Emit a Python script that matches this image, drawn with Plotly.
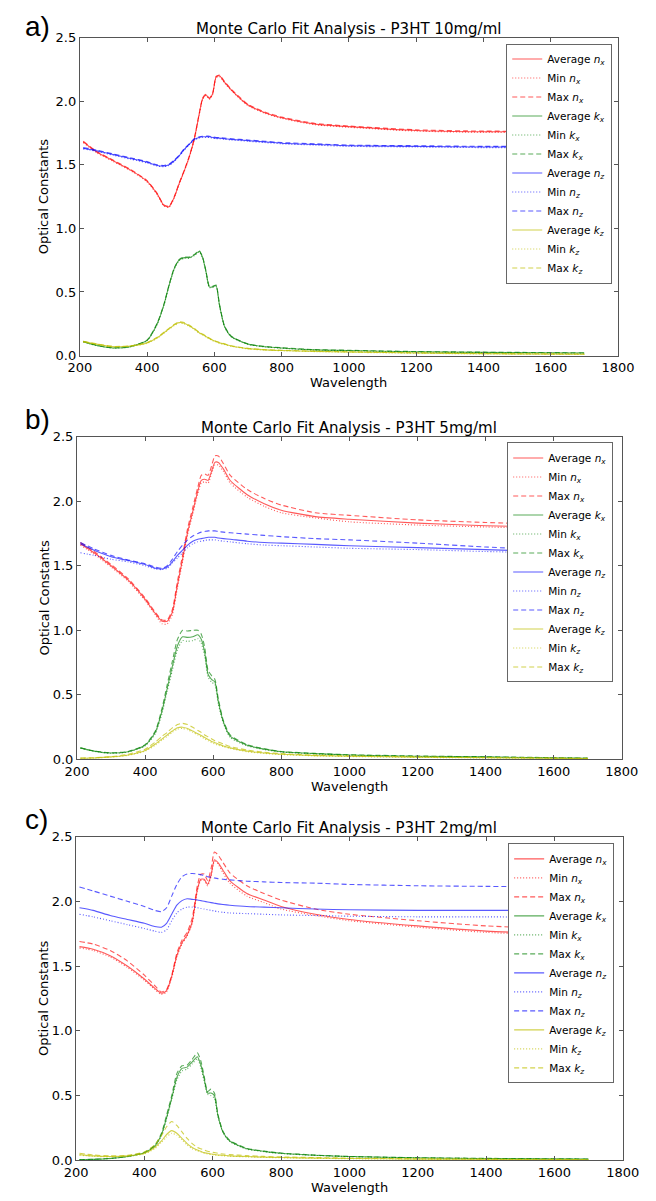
import plotly.graph_objects as go

W, H = 656, 1201

WL = [210, 250, 300, 350, 400, 430, 450, 465, 480, 495, 510, 525, 540, 555, 565,
      575, 585, 595, 605, 615, 630, 650, 700, 750, 800, 900, 1000, 1200, 1400, 1700]

# ---------------- Panel a) 10mg/ml ----------------
a_nx_avg = [1.68, 1.60, 1.53, 1.46, 1.37, 1.27, 1.18, 1.17, 1.24, 1.35, 1.45, 1.56, 1.70, 1.90, 2.02,
            2.05, 2.02, 2.06, 2.19, 2.20, 2.15, 2.09, 1.97, 1.91, 1.87, 1.82, 1.80, 1.77, 1.76, 1.76]
a_nx_min = [1.675, 1.595, 1.525, 1.455, 1.365, 1.265, 1.175, 1.165, 1.235, 1.345, 1.445, 1.555, 1.695, 1.895, 2.015,
            2.045, 2.015, 2.055, 2.185, 2.195, 2.145, 2.085, 1.965, 1.905, 1.865, 1.815, 1.795, 1.765, 1.755, 1.755]
a_nx_max = [1.685, 1.605, 1.535, 1.465, 1.375, 1.275, 1.185, 1.175, 1.245, 1.355, 1.455, 1.565, 1.705, 1.905, 2.025,
            2.055, 2.025, 2.065, 2.195, 2.205, 2.155, 2.095, 1.975, 1.915, 1.875, 1.825, 1.805, 1.775, 1.765, 1.765]
a_kx_avg = [0.11, 0.08, 0.06, 0.07, 0.12, 0.25, 0.40, 0.55, 0.68, 0.75, 0.77, 0.77, 0.79, 0.82, 0.77,
            0.66, 0.54, 0.54, 0.55, 0.40, 0.23, 0.15, 0.09, 0.07, 0.06, 0.045, 0.04, 0.03, 0.025, 0.02]
a_kx_min = [0.108, 0.078, 0.058, 0.068, 0.117, 0.245, 0.395, 0.545, 0.675, 0.745, 0.765, 0.765, 0.785, 0.815, 0.765,
            0.655, 0.535, 0.535, 0.545, 0.395, 0.226, 0.147, 0.088, 0.068, 0.058, 0.043, 0.038, 0.028, 0.023, 0.018]
a_kx_max = [0.112, 0.082, 0.062, 0.072, 0.123, 0.255, 0.405, 0.555, 0.685, 0.755, 0.775, 0.775, 0.795, 0.825, 0.775,
            0.665, 0.545, 0.545, 0.555, 0.405, 0.234, 0.153, 0.092, 0.072, 0.062, 0.047, 0.042, 0.032, 0.027, 0.022]
a_nz_avg = [1.63, 1.61, 1.58, 1.55, 1.52, 1.495, 1.49, 1.50, 1.53, 1.57, 1.62, 1.66, 1.70, 1.715, 1.72,
            1.72, 1.72, 1.715, 1.71, 1.71, 1.705, 1.70, 1.69, 1.68, 1.67, 1.66, 1.65, 1.645, 1.64, 1.64]
a_nz_min = [1.625, 1.605, 1.575, 1.545, 1.515, 1.49, 1.485, 1.495, 1.525, 1.565, 1.615, 1.655, 1.695, 1.71, 1.715,
            1.715, 1.715, 1.71, 1.705, 1.705, 1.70, 1.695, 1.685, 1.675, 1.665, 1.655, 1.645, 1.64, 1.635, 1.635]
a_nz_max = [1.635, 1.615, 1.585, 1.555, 1.525, 1.50, 1.495, 1.505, 1.535, 1.575, 1.625, 1.665, 1.705, 1.72, 1.725,
            1.725, 1.725, 1.72, 1.715, 1.715, 1.71, 1.705, 1.695, 1.685, 1.675, 1.665, 1.655, 1.65, 1.645, 1.645]
a_kz_avg = [0.11, 0.09, 0.07, 0.075, 0.10, 0.14, 0.18, 0.21, 0.24, 0.26, 0.255, 0.235, 0.21, 0.18, 0.165,
            0.15, 0.135, 0.12, 0.11, 0.10, 0.09, 0.075, 0.055, 0.045, 0.04, 0.033, 0.028, 0.02, 0.015, 0.01]
a_kz_min = [0.108, 0.088, 0.068, 0.073, 0.097, 0.136, 0.176, 0.206, 0.235, 0.255, 0.25, 0.23, 0.206, 0.176, 0.161,
            0.146, 0.132, 0.117, 0.107, 0.097, 0.087, 0.073, 0.053, 0.043, 0.038, 0.031, 0.026, 0.018, 0.013, 0.008]
a_kz_max = [0.112, 0.092, 0.072, 0.077, 0.103, 0.144, 0.184, 0.214, 0.245, 0.265, 0.26, 0.24, 0.214, 0.184, 0.169,
            0.154, 0.138, 0.123, 0.113, 0.103, 0.093, 0.077, 0.057, 0.047, 0.042, 0.035, 0.03, 0.022, 0.017, 0.012]

# ---------------- Panel b) 5mg/ml ----------------
b_nx_avg = [1.67, 1.60, 1.50, 1.39, 1.24, 1.13, 1.07, 1.07, 1.14, 1.35, 1.55, 1.76, 1.92, 2.08, 2.16,
            2.17, 2.16, 2.23, 2.30, 2.30, 2.25, 2.16, 2.05, 1.98, 1.93, 1.88, 1.86, 1.83, 1.81, 1.79]
b_nx_min = [1.66, 1.59, 1.49, 1.38, 1.23, 1.12, 1.05, 1.05, 1.12, 1.33, 1.53, 1.74, 1.90, 2.06, 2.14,
            2.15, 2.14, 2.21, 2.28, 2.28, 2.23, 2.14, 2.03, 1.96, 1.91, 1.87, 1.84, 1.815, 1.80, 1.78]
b_nx_max = [1.68, 1.61, 1.51, 1.40, 1.25, 1.14, 1.08, 1.08, 1.16, 1.38, 1.58, 1.79, 1.95, 2.11, 2.20,
            2.21, 2.20, 2.27, 2.35, 2.35, 2.29, 2.20, 2.09, 2.02, 1.97, 1.91, 1.89, 1.855, 1.835, 1.81]
b_kx_avg = [0.09, 0.065, 0.05, 0.06, 0.11, 0.21, 0.38, 0.55, 0.72, 0.88, 0.95, 0.945, 0.95, 0.965, 0.93,
            0.83, 0.66, 0.62, 0.60, 0.45, 0.29, 0.18, 0.11, 0.08, 0.06, 0.045, 0.035, 0.025, 0.02, 0.01]
b_kx_min = [0.088, 0.063, 0.048, 0.058, 0.105, 0.20, 0.36, 0.53, 0.69, 0.85, 0.92, 0.915, 0.92, 0.935, 0.90,
            0.80, 0.64, 0.60, 0.58, 0.43, 0.28, 0.17, 0.105, 0.077, 0.058, 0.043, 0.033, 0.023, 0.018, 0.009]
b_kx_max = [0.09, 0.066, 0.052, 0.062, 0.115, 0.22, 0.40, 0.58, 0.76, 0.93, 1.00, 0.995, 1.00, 1.00, 0.97,
            0.87, 0.69, 0.65, 0.62, 0.47, 0.30, 0.19, 0.115, 0.083, 0.062, 0.047, 0.037, 0.027, 0.021, 0.011]
b_nz_avg = [1.67, 1.62, 1.57, 1.54, 1.51, 1.48, 1.475, 1.49, 1.53, 1.58, 1.62, 1.66, 1.69, 1.705, 1.71,
            1.715, 1.72, 1.72, 1.72, 1.715, 1.71, 1.705, 1.69, 1.68, 1.675, 1.665, 1.655, 1.64, 1.625, 1.60]
b_nz_min = [1.60, 1.58, 1.55, 1.53, 1.50, 1.475, 1.47, 1.48, 1.52, 1.56, 1.60, 1.64, 1.67, 1.685, 1.69,
            1.695, 1.70, 1.70, 1.70, 1.695, 1.69, 1.685, 1.67, 1.66, 1.655, 1.645, 1.635, 1.625, 1.61, 1.595]
b_nz_max = [1.68, 1.63, 1.58, 1.545, 1.515, 1.49, 1.48, 1.50, 1.55, 1.61, 1.66, 1.70, 1.73, 1.75, 1.76,
            1.765, 1.77, 1.77, 1.77, 1.765, 1.76, 1.755, 1.745, 1.735, 1.725, 1.71, 1.70, 1.675, 1.645, 1.61]
b_kz_avg = [0.01, 0.012, 0.02, 0.035, 0.07, 0.12, 0.16, 0.19, 0.22, 0.245, 0.25, 0.24, 0.22, 0.20, 0.185,
            0.17, 0.155, 0.14, 0.13, 0.12, 0.105, 0.09, 0.065, 0.05, 0.04, 0.03, 0.025, 0.018, 0.013, 0.008]
b_kz_min = [0.009, 0.011, 0.018, 0.032, 0.065, 0.11, 0.15, 0.18, 0.21, 0.235, 0.24, 0.23, 0.21, 0.19, 0.175,
            0.16, 0.145, 0.13, 0.12, 0.11, 0.10, 0.085, 0.06, 0.047, 0.038, 0.028, 0.023, 0.016, 0.012, 0.007]
b_kz_max = [0.012, 0.014, 0.022, 0.04, 0.08, 0.135, 0.18, 0.21, 0.245, 0.27, 0.28, 0.27, 0.25, 0.225, 0.21,
            0.19, 0.175, 0.16, 0.145, 0.135, 0.12, 0.10, 0.073, 0.056, 0.045, 0.034, 0.028, 0.02, 0.015, 0.009]

# ---------------- Panel c) 2mg/ml ----------------
c_nx_avg = [1.65, 1.63, 1.58, 1.50, 1.40, 1.33, 1.29, 1.31, 1.42, 1.58, 1.68, 1.74, 1.84, 2.09, 2.17,
            2.17, 2.13, 2.20, 2.32, 2.30, 2.24, 2.16, 2.06, 2.01, 1.96, 1.90, 1.86, 1.81, 1.77, 1.74]
c_nx_min = [1.64, 1.62, 1.57, 1.49, 1.39, 1.32, 1.28, 1.30, 1.41, 1.57, 1.67, 1.73, 1.83, 2.08, 2.16,
            2.16, 2.12, 2.19, 2.31, 2.29, 2.22, 2.14, 2.04, 1.99, 1.94, 1.89, 1.85, 1.80, 1.76, 1.73]
c_nx_max = [1.69, 1.67, 1.62, 1.54, 1.43, 1.35, 1.30, 1.32, 1.43, 1.60, 1.70, 1.76, 1.87, 2.12, 2.21,
            2.21, 2.16, 2.25, 2.38, 2.36, 2.30, 2.22, 2.12, 2.06, 2.01, 1.94, 1.90, 1.85, 1.81, 1.78]
c_kx_avg = [0.005, 0.008, 0.015, 0.03, 0.06, 0.11, 0.20, 0.33, 0.48, 0.64, 0.71, 0.72, 0.76, 0.80, 0.74,
            0.63, 0.52, 0.52, 0.50, 0.35, 0.22, 0.15, 0.09, 0.07, 0.055, 0.04, 0.03, 0.02, 0.015, 0.01]
c_kx_min = [0.004, 0.007, 0.014, 0.028, 0.058, 0.105, 0.19, 0.32, 0.47, 0.62, 0.69, 0.705, 0.745, 0.785, 0.72,
            0.61, 0.51, 0.50, 0.48, 0.34, 0.215, 0.145, 0.087, 0.068, 0.053, 0.039, 0.029, 0.019, 0.014, 0.009]
c_kx_max = [0.006, 0.009, 0.016, 0.032, 0.062, 0.115, 0.21, 0.35, 0.50, 0.67, 0.73, 0.735, 0.78, 0.83, 0.77,
            0.65, 0.53, 0.55, 0.52, 0.36, 0.225, 0.155, 0.093, 0.072, 0.057, 0.041, 0.031, 0.021, 0.016, 0.011]
c_nz_avg = [1.95, 1.93, 1.89, 1.86, 1.83, 1.805, 1.80, 1.83, 1.90, 1.97, 2.005, 2.02, 2.015, 2.01, 2.005,
            2.00, 1.995, 1.99, 1.985, 1.98, 1.975, 1.97, 1.96, 1.955, 1.95, 1.94, 1.935, 1.93, 1.93, 1.93]
c_nz_min = [1.90, 1.88, 1.85, 1.82, 1.79, 1.77, 1.76, 1.78, 1.85, 1.91, 1.94, 1.955, 1.955, 1.95, 1.945,
            1.94, 1.935, 1.93, 1.925, 1.92, 1.915, 1.91, 1.905, 1.90, 1.895, 1.89, 1.885, 1.88, 1.88, 1.875]
c_nz_max = [2.11, 2.08, 2.04, 2.00, 1.96, 1.93, 1.92, 1.95, 2.04, 2.13, 2.19, 2.21, 2.215, 2.21, 2.205,
            2.20, 2.19, 2.185, 2.18, 2.175, 2.17, 2.165, 2.155, 2.15, 2.145, 2.14, 2.13, 2.12, 2.115, 2.11]
c_kz_avg = [0.045, 0.035, 0.03, 0.035, 0.055, 0.10, 0.15, 0.20, 0.23, 0.21, 0.17, 0.13, 0.10, 0.08, 0.07,
            0.06, 0.055, 0.05, 0.045, 0.042, 0.04, 0.035, 0.03, 0.025, 0.022, 0.018, 0.015, 0.01, 0.008, 0.005]
c_kz_min = [0.04, 0.032, 0.027, 0.032, 0.05, 0.09, 0.14, 0.18, 0.21, 0.195, 0.16, 0.12, 0.09, 0.075, 0.065,
            0.055, 0.05, 0.045, 0.042, 0.039, 0.036, 0.032, 0.027, 0.023, 0.02, 0.016, 0.013, 0.009, 0.007, 0.004]
c_kz_max = [0.055, 0.042, 0.035, 0.04, 0.065, 0.12, 0.19, 0.26, 0.30, 0.27, 0.22, 0.17, 0.13, 0.10, 0.09,
            0.08, 0.07, 0.065, 0.06, 0.055, 0.05, 0.045, 0.037, 0.031, 0.027, 0.022, 0.018, 0.013, 0.01, 0.007]

TITLES = ["Monte Carlo Fit Analysis - P3HT 10mg/ml",
          "Monte Carlo Fit Analysis - P3HT 5mg/ml",
          "Monte Carlo Fit Analysis - P3HT 2mg/ml"]
PANEL_LABELS = ["a)", "b)", "c)"]
X_TICKS = [200, 400, 600, 800, 1000, 1200, 1400, 1600, 1800]
Y_TICKS = [0.0, 0.5, 1.0, 1.5, 2.0, 2.5]

panels = [
    {"nx": (a_nx_avg, a_nx_min, a_nx_max), "kx": (a_kx_avg, a_kx_min, a_kx_max),
     "nz": (a_nz_avg, a_nz_min, a_nz_max), "kz": (a_kz_avg, a_kz_min, a_kz_max)},
    {"nx": (b_nx_avg, b_nx_min, b_nx_max), "kx": (b_kx_avg, b_kx_min, b_kx_max),
     "nz": (b_nz_avg, b_nz_min, b_nz_max), "kz": (b_kz_avg, b_kz_min, b_kz_max)},
    {"nx": (c_nx_avg, c_nx_min, c_nx_max), "kx": (c_kx_avg, c_kx_min, c_kx_max),
     "nz": (c_nz_avg, c_nz_min, c_nz_max), "kz": (c_kz_avg, c_kz_min, c_kz_max)},
]

# pixel boxes of the three axes (left, right, top, bottom)
boxes = [(71, 634, 31, 353), (68, 638, 435, 762), (67, 639, 840, 1168)]
legend_pos = [(628, 37), (629, 441), (630, 847)]
panel_label_y = [20, 418, 823]

COLORS = {"nx": "rgba(255,0,0,0.65)", "kx": "rgba(0,128,0,0.65)",
          "nz": "rgba(0,0,255,0.65)", "kz": "rgba(191,191,0,0.7)"}
SYM = {"nx": "<i>n<sub>x</sub></i>", "kx": "<i>k<sub>x</sub></i>",
       "nz": "<i>n<sub>z</sub></i>", "kz": "<i>k<sub>z</sub></i>"}
STYLES = [("Average", "solid"), ("Min", "1px,2px"), ("Max", "5px,3px")]

FONT = "DejaVu Sans, sans-serif"
fig = go.Figure()
layout = dict(width=W, height=H, paper_bgcolor="white", plot_bgcolor="white",
              margin=dict(l=0, r=0, t=0, b=0), showlegend=True,
              font=dict(family=FONT, color="black"))
annotations = []

for i, p in enumerate(panels):
    sfx = "" if i == 0 else str(i + 1)
    leg = "legend" if i == 0 else "legend" + str(i + 1)
    for key in ["nx", "kx", "nz", "kz"]:
        for (label, dash), ys in zip(STYLES, p[key]):
            fig.add_trace(go.Scatter(
                x=WL, y=ys, mode="lines", name=f"{label} {SYM[key]}",
                line=dict(color=COLORS[key], width=1.1, dash=dash, shape="spline", smoothing=0.6),
                xaxis="x" + sfx, yaxis="y" + sfx, legend=leg, hoverinfo="skip"))
    l, r, t, b = boxes[i]
    axcommon = dict(showline=True, linecolor="#555", linewidth=1, mirror="ticks",
                    ticks="inside", ticklen=4, tickcolor="#555", showgrid=False, zeroline=False,
                    tickfont=dict(size=13, family=FONT, color="black"))
    layout["xaxis" + sfx] = dict(axcommon, domain=[l / W, r / W], range=[200, 1800],
                                 tickvals=X_TICKS, ticktext=[str(v) for v in X_TICKS],
                                 anchor="y" + sfx)
    layout["yaxis" + sfx] = dict(axcommon, domain=[1 - b / H, 1 - t / H], range=[0, 2.5],
                                 tickvals=Y_TICKS, ticktext=[f"{v:.1f}" for v in Y_TICKS],
                                 anchor="x" + sfx)
    lx, ly = legend_pos[i]
    layout[leg] = dict(x=lx / W, y=1 - ly / H, xanchor="right", yanchor="top",
                       bgcolor="white", bordercolor="#666", borderwidth=1,
                       font=dict(size=10.5, family=FONT), itemwidth=30,
                       tracegroupgap=0)
    annotations.append(dict(text=TITLES[i], x=(l + r) / 2 / W, y=1 - (t - 9) / H,
                            xref="paper", yref="paper", showarrow=False,
                            font=dict(size=15, family=FONT), xanchor="center", yanchor="middle"))
    annotations.append(dict(text=PANEL_LABELS[i], x=12 / W, y=1 - panel_label_y[i] / H,
                            xref="paper", yref="paper", showarrow=False,
                            font=dict(size=28, family="Liberation Sans, Arial, sans-serif"),
                            xanchor="left", yanchor="middle"))
    annotations.append(dict(text="Wavelength", x=(l + r) / 2 / W, y=1 - (b + 27) / H,
                            xref="paper", yref="paper", showarrow=False,
                            font=dict(size=13, family=FONT), xanchor="center", yanchor="middle"))
    annotations.append(dict(text="Optical Constants", x=33 / W, y=1 - (t + b) / 2 / H,
                            xref="paper", yref="paper", showarrow=False, textangle=-90,
                            font=dict(size=13, family=FONT), xanchor="center", yanchor="middle"))

layout["annotations"] = annotations
fig.update_layout(**layout)
fig.write_html("out.html", config={"displayModeBar": False},
               post_script="document.body.style.margin='0';")
